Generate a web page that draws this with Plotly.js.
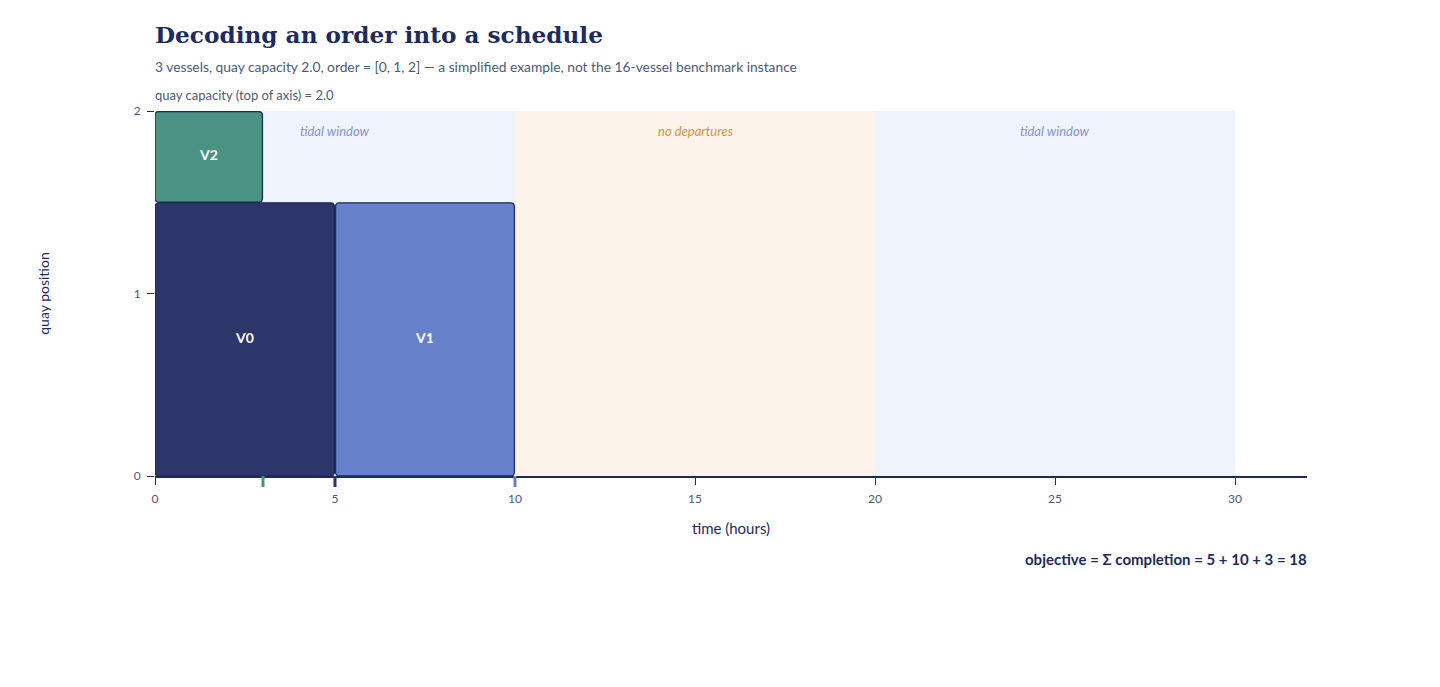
<!DOCTYPE html>
<html>
<head>
<meta charset="utf-8">
<script src="https://cdn.plot.ly/plotly-3.0.1.min.js"></script>
<style>body{margin:0;background:#fff;}#chart{width:1440px;height:687px;}</style>
</head>
<body>
<div id="chart"></div>
<script>
// schedule decoded from order [0, 1, 2]
var vessels = ['V0', 'V1', 'V2'];
var starts = [0, 5, 0];
var durations = [5, 5, 3];
var quayPos = [0, 0, 1.5];
var lengths = [1.5, 1.5, 0.5];
var colors = ['#2d366b', '#6680c9', '#4a9283'];

// time windows
var winStart = [0, 10, 20];
var winEnd = [10, 20, 30];
var winLabel = ['tidal window', 'no departures', 'tidal window'];
var winFill = ['#eff4fc', '#fcf3ea', '#eff4fc'];
var winText = ['#7f96d0', '#d4963a', '#7f96d0'];

var capacity = 2.0;
var xMax = 32;

var ink = '#1f2a5c';
var shapes = [];
var annotations = [];

for (var i = 0; i < winStart.length; i++) {
    shapes.push({type: 'rect', layer: 'below', xref: 'x', yref: 'y',
        x0: winStart[i], x1: winEnd[i], y0: 0, y1: capacity,
        fillcolor: winFill[i], line: {width: 0}});
    annotations.push({xref: 'x', yref: 'y', x: (winStart[i] + winEnd[i]) / 2, y: capacity,
        yanchor: 'top', yshift: -10, showarrow: false, text: '<i>' + winLabel[i] + '</i>',
        font: {family: 'Lato', size: 13, color: winText[i]}});
}

// rounded box in data units (radius ~4px)
var rx = 0.11, ry = 0.022, gx = 0.015, gy = 0.003;
function box(x0, x1, y0, y1) {
    if (x0 > 0) x0 += gx;
    x1 -= gx; y1 -= gy;
    return 'M' + (x0 + rx) + ',' + y0 + ' L' + (x1 - rx) + ',' + y0 +
        ' Q' + x1 + ',' + y0 + ' ' + x1 + ',' + (y0 + ry) +
        ' L' + x1 + ',' + (y1 - ry) + ' Q' + x1 + ',' + y1 + ' ' + (x1 - rx) + ',' + y1 +
        ' L' + (x0 + rx) + ',' + y1 + ' Q' + x0 + ',' + y1 + ' ' + x0 + ',' + (y1 - ry) +
        ' L' + x0 + ',' + (y0 + ry) + ' Q' + x0 + ',' + y0 + ' ' + (x0 + rx) + ',' + y0 + ' Z';
}

var trace = {x: [], y: [], text: [], mode: 'text', type: 'scatter', hoverinfo: 'skip', cliponaxis: false,
    textfont: {family: 'Lato', size: 14, color: '#ffffff'}, showlegend: false};

var completion = [];
for (var j = 0; j < vessels.length; j++) {
    var end = starts[j] + durations[j];
    completion.push(end);
    shapes.push({type: 'path', layer: 'below', xref: 'x', yref: 'y',
        path: box(starts[j], end, quayPos[j], quayPos[j] + lengths[j]),
        fillcolor: colors[j], line: {color: ink, width: 1.3}});
    trace.x.push(starts[j] + durations[j] / 2);
    trace.y.push(quayPos[j] + lengths[j] / 2);
    trace.text.push('<b>' + vessels[j] + '</b>');
    // completion tick under the axis
    shapes.push({type: 'line', layer: 'above', xref: 'x', yref: 'paper', ysizemode: 'pixel', yanchor: 0,
        x0: end, x1: end, y0: 0, y1: -11, line: {color: colors[j], width: 3}});
}

var total = completion.reduce(function (a, b) { return a + b; }, 0);

annotations.push({xref: 'paper', yref: 'paper', x: 0, y: 1, yanchor: 'middle', xanchor: 'left',
    xshift: -2, yshift: 45, showarrow: false,
    text: '3 vessels, quay capacity 2.0, order = [0, 1, 2] — a simplified example, not the 16-vessel benchmark instance',
    font: {family: 'Lato', size: 13.8, color: '#4a5a7a'}});
annotations.push({xref: 'paper', yref: 'paper', x: 0, y: 1, yanchor: 'bottom', xanchor: 'left',
    xshift: -2, yshift: 6, showarrow: false, text: 'quay capacity (top of axis) = ' + capacity.toFixed(1),
    font: {family: 'Lato', size: 13, color: '#4a5a7a'}});
annotations.push({xref: 'paper', yref: 'paper', x: 1, y: 0, xanchor: 'right', yanchor: 'top',
    xshift: 2, yshift: -72, showarrow: false,
    text: '<b>objective = Σ completion = ' + completion.join(' + ') + ' = ' + total + '</b>',
    font: {family: 'Lato', size: 15, color: ink}});

var layout = {
    width: 1440, height: 687,
    margin: {l: 155, r: 133, t: 111, b: 211},
    paper_bgcolor: '#ffffff', plot_bgcolor: '#ffffff',
    font: {family: 'Lato', color: '#4a5a7a'},
    title: {
        text: '<b>Decoding an order into a schedule</b>',
        font: {family: 'DejaVu Serif', size: 23.2, color: ink},
        xref: 'paper', x: 0, xanchor: 'left', yref: 'container', y: 0.949, yanchor: 'middle'
    },
    xaxis: {range: [0, xMax], tickvals: [0, 5, 10, 15, 20, 25, 30], showgrid: false, zeroline: false,
        showline: true, linecolor: ink, linewidth: 2, ticks: 'outside', ticklen: 7, tickcolor: ink,
        ticklabelstandoff: 4, tickfont: {size: 12, color: '#4a5a7a'},
        title: {text: 'time (hours)', font: {size: 15, color: ink}, standoff: 18}},
    yaxis: {range: [0, capacity], tickvals: [0, 1, 2], showgrid: false, zeroline: false, showline: false,
        ticks: 'outside', ticklen: 7, tickcolor: ink, ticklabelstandoff: 4, tickfont: {size: 12, color: '#4a5a7a'},
        title: {text: 'quay position', font: {size: 14, color: ink}, standoff: 80}},
    shapes: shapes,
    annotations: annotations,
    showlegend: false
};

Plotly.newPlot('chart', [trace], layout, {displayModeBar: false});
</script>
</body>
</html>
